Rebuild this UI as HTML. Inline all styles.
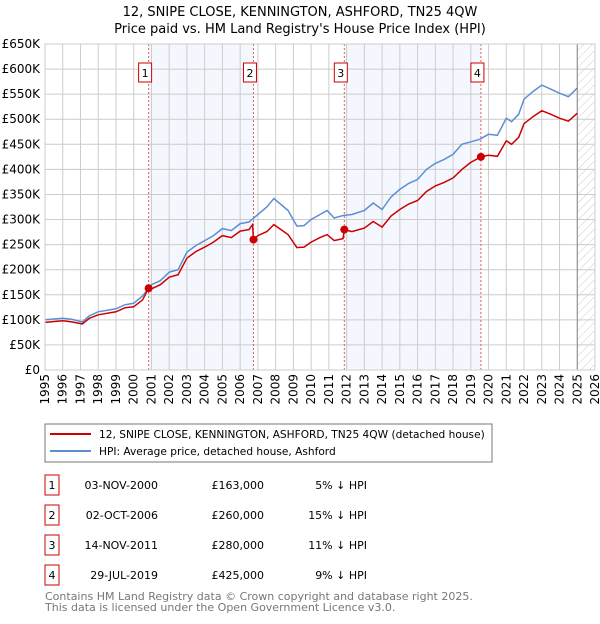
<!DOCTYPE html>
<html><head><meta charset="utf-8"><style>
body{margin:0;background:#fff;font-family:"DejaVu Sans","Liberation Sans",sans-serif;}
svg text{font-family:"DejaVu Sans","Liberation Sans",sans-serif;}
</style></head><body>
<svg id="c" width="600" height="620" viewBox="0 0 600 620" xmlns="http://www.w3.org/2000/svg">
<defs><pattern id="hatch" width="6" height="6" patternUnits="userSpaceOnUse" patternTransform="rotate(45)"><line x1="0" y1="0" x2="0" y2="6" stroke="#ccc" stroke-width="1"/></pattern></defs>
<text x="300" y="16" text-anchor="middle" font-size="13">12, SNIPE CLOSE, KENNINGTON, ASHFORD, TN25 4QW</text>
<text x="300" y="33" text-anchor="middle" font-size="13">Price paid vs. HM Land Registry's House Price Index (HPI)</text>
<g id="plot"></g>
<rect x="45" y="424" width="447" height="38" fill="#fff" stroke="#777"/>
<line x1="50" y1="434" x2="91" y2="434" stroke="#cc0000" stroke-width="2"/>
<text x="99" y="438" font-size="10.6">12, SNIPE CLOSE, KENNINGTON, ASHFORD, TN25 4QW (detached house)</text>
<line x1="50" y1="451" x2="91" y2="451" stroke="#5b8fd4" stroke-width="2"/>
<text x="99" y="455" font-size="10.6">HPI: Average price, detached house, Ashford</text>
<g id="table" font-size="11"></g>
<text x="45" y="600" font-size="11" fill="#777">Contains HM Land Registry data © Crown copyright and database right 2025.</text>
<text x="45" y="611" font-size="11" fill="#777">This data is licensed under the Open Government Licence v3.0.</text>
</svg>
<script>
const yTicks=[0,50,100,150,200,250,300,350,400,450,500,550,600,650];
const yLabels=["£0","£50K","£100K","£150K","£200K","£250K","£300K","£350K","£400K","£450K","£500K","£550K","£600K","£650K"];
const xYears=[1995,1996,1997,1998,1999,2000,2001,2002,2003,2004,2005,2006,2007,2008,2009,2010,2011,2012,2013,2014,2015,2016,2017,2018,2019,2020,2021,2022,2023,2024,2025,2026];
const hpiYears=[1995,1996,1996.5,1997.1,1997.5,1998,1999,1999.5,2000,2000.5,2001,2001.5,2002,2002.5,2003,2003.5,2004,2004.5,2005,2005.5,2006,2006.5,2007,2007.5,2007.9,2008.3,2008.7,2009.2,2009.6,2010,2010.5,2010.9,2011.3,2011.8,2012.3,2013,2013.5,2014,2014.5,2015,2015.5,2016,2016.5,2017,2017.5,2018,2018.5,2019,2019.5,2020,2020.5,2021,2021.3,2021.7,2022,2022.5,2023,2023.5,2024,2024.5,2025];
const hpiValues=[100,103,101,96,108,116,122,130,133,148,170,178,195,200,235,248,258,268,282,278,292,295,310,325,342,330,318,287,288,300,310,318,303,308,310,318,333,320,345,360,372,380,400,412,420,430,450,455,460,470,468,502,495,510,540,555,568,560,552,545,562];
const priceYears=[1995,1996,1996.5,1997.1,1997.5,1998,1999,1999.5,2000,2000.5,2000.84,2001,2001.5,2002,2002.5,2003,2003.5,2004,2004.5,2005,2005.5,2006,2006.5,2006.7,2006.75,2007,2007.5,2007.9,2008.3,2008.7,2009.2,2009.6,2010,2010.5,2010.9,2011.3,2011.8,2011.87,2012.3,2013,2013.5,2014,2014.5,2015,2015.5,2016,2016.5,2017,2017.5,2018,2018.5,2019,2019.57,2020,2020.5,2021,2021.3,2021.7,2022,2022.5,2023,2023.5,2024,2024.5,2025];
const priceValues=[95,98,96,92,103,110,116,124,126,140,163,162,170,185,190,223,236,245,255,268,264,277,280,290,260,268,276,290,280,270,244,245,255,264,270,258,262,280,276,283,296,285,307,320,331,338,356,367,374,383,400,414,425,428,426,457,450,464,491,505,517,510,502,496,512];
const saleYears=[2000.84,2006.75,2011.87,2019.57];
const saleValues=[163,260,280,425];
const saleLabels=["1","2","3","4"];
const saleDates=["03-NOV-2000","02-OCT-2006","14-NOV-2011","29-JUL-2019"];
const salePrices=["£163,000","£260,000","£280,000","£425,000"];
const saleDiffs=["5% ↓ HPI","15% ↓ HPI","11% ↓ HPI","9% ↓ HPI"];

const NS="http://www.w3.org/2000/svg";
const X0=45,X1=595,Y0=370,Y1=44;
const xs=y=>X0+(y-1995)/(2026-1995)*(X1-X0);
const ys=v=>Y0-v/650*(Y0-Y1);
const plot=document.getElementById('plot');
function mk(tag,attrs,parent){const e=document.createElementNS(NS,tag);for(const k in attrs)e.setAttribute(k,attrs[k]);(parent||plot).appendChild(e);return e;}

let e;
e=mk('rect',{x:X0,y:Y1,width:X1-X0,height:Y0-Y1,fill:'#fff'});


for(let i=0;i<saleYears.length;i+=2){
  e=mk('rect',{x:xs(saleYears[i]),y:Y1,width:xs(saleYears[i+1])-xs(saleYears[i]),height:Y0-Y1,fill:'#f3f6fd',opacity:0.9});
  
  
}
e=mk('rect',{x:xs(2025),y:Y1,width:X1-xs(2025),height:Y0-Y1,fill:'url(#hatch)'});


yTicks.forEach((t,i)=>{
  e=mk('line',{x1:X0,x2:X1,y1:ys(t),y2:ys(t),stroke:'#ccc','stroke-width':1});
  
  
  e=mk('text',{x:40,y:ys(t)+4,'text-anchor':'end','font-size':12});
  e.textContent=yLabels[i];
  
  
});
xYears.forEach(y=>{
  e=mk('line',{x1:xs(y),x2:xs(y),y1:Y1,y2:Y0,stroke:'#ccc','stroke-width':1});
  
  
  e=mk('text',{x:xs(y)+4,y:374,'text-anchor':'end','font-size':12,transform:`rotate(-90 ${xs(y)+4} 374)`});
  e.textContent=y;
  
  
});
e=mk('line',{x1:xs(2025),x2:xs(2025),y1:Y1,y2:Y0,stroke:'#888','stroke-width':1});


saleYears.forEach((s,i)=>{
  e=mk('line',{x1:xs(s),x2:xs(s),y1:Y1,y2:Y0,stroke:'#e06060','stroke-width':1,'stroke-dasharray':'2,2'});
  
  
  e=mk('rect',{x:xs(s)-10,y:63,width:13,height:19,fill:'#fff',stroke:'#cc0000'});
  
  
  e=mk('text',{x:xs(s)-3.5,y:77,'text-anchor':'middle','font-size':11});
  e.textContent=saleLabels[i];
  
  
});
const path=(xa,va)=>xa.map((y,i)=>(i?'L':'M')+xs(y).toFixed(1)+','+ys(va[i]).toFixed(1)).join('');
e=mk('path',{d:path(hpiYears,hpiValues),fill:'none',stroke:'#5b8fd4','stroke-width':1.5});


e=mk('path',{d:path(priceYears,priceValues),fill:'none',stroke:'#cc0000','stroke-width':1.5});


saleYears.forEach((s,i)=>{
  e=mk('circle',{cx:xs(s),cy:ys(saleValues[i]),r:4,fill:'#cc0000'});
  
  
});
mk('rect',{x:X0,y:Y1,width:X1-X0,height:Y0-Y1,fill:'none',stroke:'#ccc'});

const tb=document.getElementById('table');
saleLabels.forEach((l,i)=>{
  const y=478+i*30;
  e=mk('rect',{x:45,y:y-3,width:14,height:20,fill:'#fff',stroke:'#cc0000'},tb);
  
  
  e=mk('text',{x:52,y:y+11,'text-anchor':'middle'},tb);e.textContent=l;
  
  
  e=mk('text',{x:158,y:y+11,'text-anchor':'end'},tb);e.textContent=saleDates[i];
  
  
  e=mk('text',{x:264,y:y+11,'text-anchor':'end'},tb);e.textContent=salePrices[i];
  
  
  e=mk('text',{x:367,y:y+11,'text-anchor':'end'},tb);e.textContent=saleDiffs[i];
  
  
});
</script>
</body></html>
